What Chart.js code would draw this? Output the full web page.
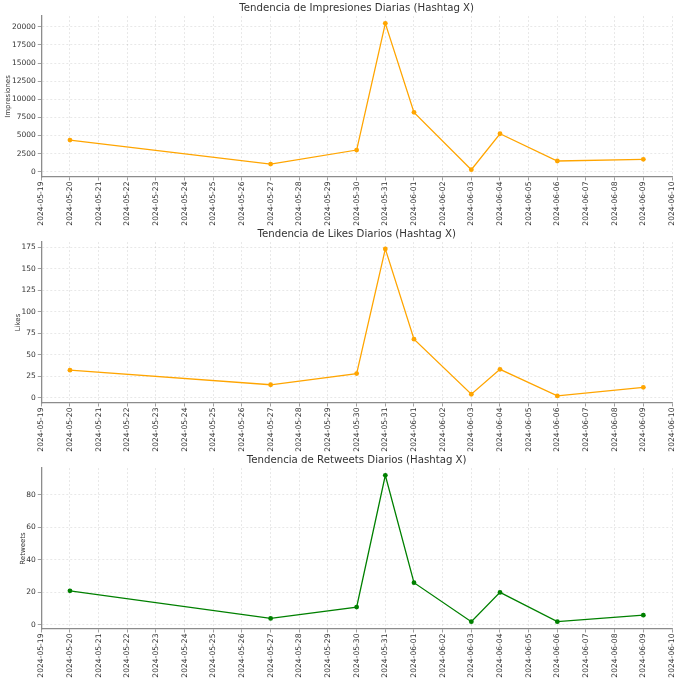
<!DOCTYPE html>
<html>
<head>
<meta charset="utf-8">
<script src="https://cdn.jsdelivr.net/npm/chart.js@4.4.1/dist/chart.umd.min.js"></script>
<style>
  html, body { margin: 0; padding: 0; background: #fff; }
  #wrap { position: relative; width: 680px; height: 680px; overflow: hidden; }
  canvas { position: absolute; left: 0; }
</style>
</head>
<body>
<div id="wrap">
  <canvas id="c1" width="680" height="228" style="top:0px"></canvas>
  <canvas id="c2" width="680" height="228" style="top:226px"></canvas>
  <canvas id="c3" width="680" height="228" style="top:452px"></canvas>
</div>
<script>
// dias del eje x (una marca por dia)
const diasEje = [
  '2024-05-19', '2024-05-20', '2024-05-21', '2024-05-22', '2024-05-23', '2024-05-24',
  '2024-05-25', '2024-05-26', '2024-05-27', '2024-05-28', '2024-05-29', '2024-05-30',
  '2024-05-31', '2024-06-01', '2024-06-02', '2024-06-03', '2024-06-04', '2024-06-05',
  '2024-06-06', '2024-06-07', '2024-06-08', '2024-06-09', '2024-06-10'
];

// fechas con datos
const fechas = ['2024-05-20', '2024-05-27', '2024-05-30', '2024-05-31', '2024-06-01',
                '2024-06-03', '2024-06-04', '2024-06-06', '2024-06-09'];

const impresiones = [4370, 1060, 2990, 20470, 8190, 280, 5240, 1480, 1710];
const likes       = [32, 15, 28, 173, 68, 4, 33, 2, 12];
const retweets    = [21, 4, 11, 92, 26, 2, 20, 2, 6];

// marcas del eje y
const ticksImpresiones = [0, 2500, 5000, 7500, 10000, 12500, 15000, 17500, 20000];
const ticksLikes       = [0, 25, 50, 75, 100, 125, 150, 175];
const ticksRetweets    = [0, 20, 40, 60, 80];

const FONT = 'DejaVu Sans';

function makeChart(id, title, yLabel, values, yTicks, color, yMin, yMax, labelPad) {
    const ctx = document.getElementById(id).getContext('2d');
    const points = fechas.map((f, i) => ({ x: diasEje.indexOf(f), y: values[i] }));

    const grid = {
        color: 'rgba(0,0,0,0.13)',
        lineWidth: 0.7,
        tickColor: '#888',
        tickLength: 3.5,
        tickWidth: 0.8
    };
    const border = { display: true, color: '#8c8c8c', width: 1.3, dash: [2, 2] };

    return new Chart(ctx, {
        type: 'line',
        data: {
            datasets: [{
                data: points,
                borderColor: color,
                backgroundColor: color,
                borderWidth: 1.3,
                pointRadius: 2.4,
                pointBorderWidth: 0,
                pointHoverRadius: 2.4,
                tension: 0
            }]
        },
        options: {
            responsive: false,
            animation: false,
            devicePixelRatio: 1,
            layout: { padding: { left: 0, right: 8, top: 0, bottom: 0 } },
            plugins: {
                legend: { display: false },
                tooltip: { enabled: false },
                title: {
                    display: true,
                    fullSize: false,
                    text: title,
                    color: '#333',
                    font: { family: FONT, size: 10.2, weight: 'normal' },
                    padding: { top: 2, bottom: 1.8 }
                }
            },
            scales: {
                x: {
                    type: 'linear',
                    min: 0,
                    max: diasEje.length - 1,
                    afterFit: (s) => {
                        s.height = 51;
                        s.paddingLeft = 0;
                        s.paddingRight = 0;
                    },
                    afterBuildTicks: (s) => {
                        s.ticks = diasEje.map((d, i) => ({ value: i }));
                    },
                    ticks: {
                        autoSkip: false,
                        maxRotation: 90,
                        minRotation: 90,
                        padding: 1,
                        color: '#333',
                        font: { family: FONT, size: 7.6 },
                        callback: (v) => diasEje[v]
                    },
                    grid: grid,
                    border: border
                },
                y: {
                    min: yMin,
                    max: yMax,
                    afterFit: (s) => { s.width = 41.3; },
                    afterBuildTicks: (s) => {
                        s.ticks = yTicks.map(v => ({ value: v }));
                    },
                    ticks: {
                        autoSkip: false,
                        padding: 2,
                        color: '#333',
                        font: { family: FONT, size: 7.5 },
                        callback: (v) => String(v)
                    },
                    title: {
                        display: true,
                        text: yLabel,
                        color: '#333',
                        font: { family: FONT, size: 7 },
                        padding: { top: labelPad, bottom: 0 }
                    },
                    grid: grid,
                    border: border
                }
            }
        }
    });
}

makeChart('c1', 'Tendencia de Impresiones Diarias (Hashtag X)', 'Impresiones',
          impresiones, ticksImpresiones, '#FFA500', -730, 21480, 4);
makeChart('c2', 'Tendencia de Likes Diarios (Hashtag X)', 'Likes',
          likes, ticksLikes, '#FFA500', -6.2, 181, 14);
makeChart('c3', 'Tendencia de Retweets Diarios (Hashtag X)', 'Retweets',
          retweets, ticksRetweets, '#008000', -2.5, 96.5, 18.5);
</script>
</body>
</html>
